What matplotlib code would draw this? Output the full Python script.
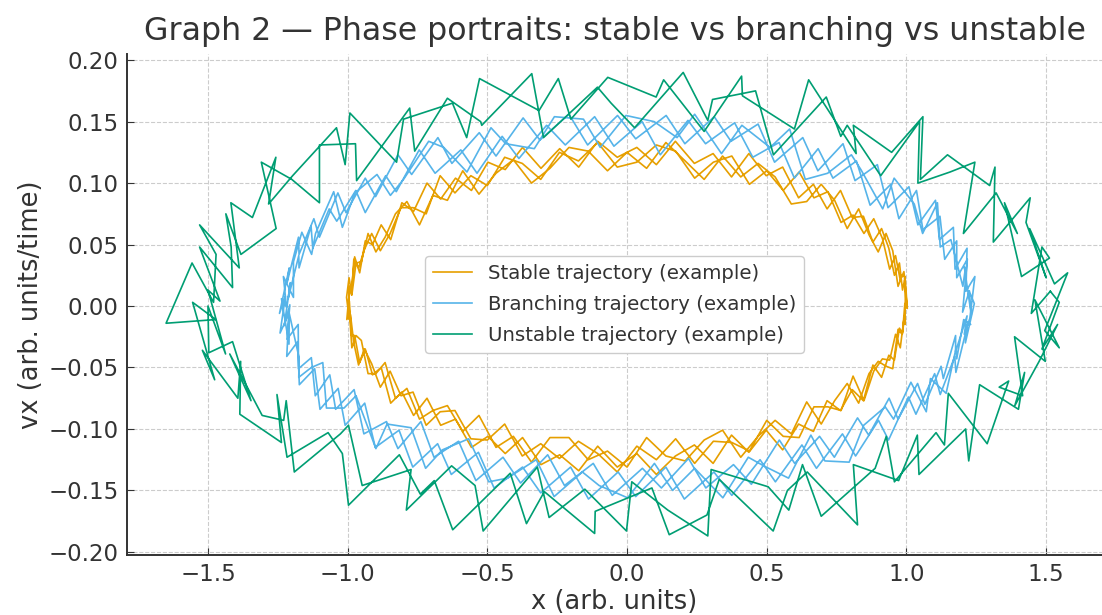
#!/usr/bin/env python
'''
phase portraits: stable vs branching vs unstable
points read off the reference picture (several laps per trajectory)
'''
import matplotlib
matplotlib.use('Agg')
import matplotlib.pyplot as plt

### stable trajectory, three laps
stable_x = [1.000, 1.002, .991, .978, .961, .940, .914, .883, .848, .809, .766, .719, .669, .616, .559, .500, .438, .375, .309, .242, .174, .105, .035,
            -.035, -.105, -.174, -.242, -.309, -.375, -.438, -.500, -.559, -.616, -.669, -.719, -.766, -.809, -.848, -.883, -.914, -.940, -.961, -.978, -.986, -.993,
            -1.003,
            -.995, -.990, -.978, -.961, -.940, -.914, -.883, -.848, -.809, -.766, -.719, -.669, -.616, -.559, -.500, -.438, -.375, -.309, -.242, -.174, -.105, -.035,
            .035, .105, .174, .242, .309, .375, .438, .500, .559, .616, .669, .719, .766, .809, .848, .883, .914, .940, .961, .978, .990, .995,
            .996, .993, .986, .975, .957, .937, .911, .880, .846, .806, .764, .716, .667, .614, .557, .498, .436, .374, .308, .241, .173, .105, .035,
            -.035, -.105, -.173, -.241, -.308, -.374, -.436, -.498, -.557, -.614, -.667, -.716, -.764, -.806, -.846, -.880, -.911, -.937, -.957, -.975, -.986, -.994,
            -.997,
            -.994, -.986, -.975, -.957, -.937, -.911, -.880, -.846, -.806, -.764, -.716, -.667, -.614, -.557, -.498, -.436, -.374, -.308, -.241, -.173, -.105, -.035,
            .035, .105, .173, .241, .308, .374, .436, .498, .557, .614, .667, .716, .764, .806, .846, .880, .911, .937, .957, .975, .986, .994,
            1.000,
            1.003, .995, .985, .970, .951, .927, .899, .866, .829, .788, .743, .695, .643, .588, .530, .469, .407, .342, .276, .208, .139, .070, 0.0,
            -.070, -.139, -.208, -.276, -.342, -.407, -.469, -.530, -.588, -.643, -.695, -.743, -.788, -.829, -.866, -.899, -.927, -.951, -.970, -.985, -.995, -1.004,
            -.994, -.995, -.985, -.970, -.951, -.927, -.899, -.866, -.829, -.788, -.743, -.695, -.643, -.588, -.530, -.469, -.407, -.342, -.276, -.208, -.139, -.070, 0.0,
            .070, .139, .208, .276, .342, .407, .469, .530, .588, .643, .695, .743, .788, .829, .866, .899, .927, .951, .970, .985, .995, .996]
stable_v = [.003, .000, .028, .021, .041, .030, .055, .071, .059, .074, .068, .093, .088, .109, .094, .110, .099, .122, .117, .104, .126, .131, .117,
            .113, .133, .118, .125, .103, .116, .121, .098, .106, .092, .106, .075, .080, .080, .059, .045, .059, .046, .031, .038, .009, .015,
            -.011,
            -.007, -.007, -.030, -.048, -.035, -.047, -.066, -.053, -.073, -.070, -.097, -.086, -.085, -.108, -.109, -.096, -.122, -.112, -.124, -.110, -.120, -.135,
            -.114, -.125, -.108, -.128, -.110, -.111, -.118, -.093, -.106, -.107, -.082, -.082, -.085, -.057, -.077, -.053, -.043, -.044, -.023, -.034, -.012, -.015,
            .006, .021, .013, .035, .025, .047, .063, .052, .073, .072, .094, .079, .099, .088, .113, .106, .124, .105, .124, .116, .134, .115, .129,
            .121, .134, .113, .128, .112, .129, .111, .117, .094, .104, .087, .100, .077, .084, .054, .066, .050, .053, .027, .040, .014, .016,
            -.009,
            .004, -.024, -.024, -.046, -.035, -.056, -.050, -.079, -.070, -.089, -.075, -.097, -.092, -.115, -.106, -.120, -.107, -.129, -.121, -.134, -.114, -.131,
            -.120, -.137, -.122, -.113, -.128, -.105, -.119, -.101, -.117, -.096, -.102, -.077, -.085, -.068, -.077, -.048, -.058, -.040, -.044, -.018, -.022, .001,
            .004,
            -.002, .024, .025, .016, .045, .059, .044, .058, .079, .063, .086, .099, .085, .083, .105, .116, .105, .122, .103, .118, .133, .112, .125,
            .110, .126, .129, .112, .100, .119, .108, .091, .110, .086, .090, .066, .085, .075, .056, .044, .059, .036, .035, .009, .023, .007,
            -.011, -.001, -.034, -.024, -.028, -.055, -.055, -.046, -.075, -.067, -.092, -.085, -.081, -.102, -.089, -.115, -.106, -.127, -.107, -.107, -.125, -.118, -.131,
            -.107, -.122, -.126, -.109, -.101, -.123, -.106, -.093, -.104, -.078, -.096, -.077, -.063, -.079, -.055, -.045, -.049, -.051, -.019, -.023, -.006, -.012]

### branching trajectory, three laps
branch_x = [1.225, 1.201, 1.218, 1.180, 1.180, 1.137, 1.120, 1.059, 1.036, .973, .944, .870, .821, .737, .684, .599, .544, .450, .385, .281, .218, .119, .054,
            -.047, -.116, -.221, -.288, -.387, -.447, -.537, -.595, -.687, -.744, -.826, -.864, -.937, -.971, -1.039, -1.066, -1.125, -1.131, -1.174, -1.175, -1.213, -1.205,
            -1.227,
            -1.207, -1.217, -1.177, -1.176, -1.130, -1.116, -1.064, -1.043, -.977, -.942, -.861, -.820, -.738, -.691, -.603, -.541, -.444, -.381, -.284, -.224, -.121, -.053,
            .055, .123, .220, .282, .381, .445, .545, .600, .689, .742, .825, .865, .938, .970, 1.040, 1.066, 1.124, 1.132, 1.176, 1.176, 1.217, 1.207,
            1.227, 1.245, 1.213, 1.217, 1.174, 1.168, 1.118, 1.104, 1.041, 1.009, .934, .896, .816, .773, .683, .629, .528, .469, .372, .312, .207, .140, .031,
            -.034, -.141, -.208, -.312, -.372, -.469, -.529, -.627, -.677, -.771, -.820, -.900, -.937, -1.006, -1.035, -1.101, -1.121, -1.174, -1.176, -1.217, -1.209, -1.244,
            -1.223,
            -1.242, -1.210, -1.218, -1.179, -1.173, -1.118, -1.099, -1.034, -1.009, -.939, -.901, -.816, -.767, -.678, -.629, -.532, -.476, -.374, -.309, -.202, -.138, -.032,
            .031, .139, .205, .311, .375, .476, .531, .626, .678, .771, .818, .900, .936, 1.007, 1.034, 1.101, 1.121, 1.173, 1.177, 1.217, 1.211, 1.243,
            1.225,
            1.232, 1.207, 1.210, 1.202, 1.159, 1.121, 1.111, 1.058, 1.028, .956, .915, .837, .803, .718, .638, .582, .512, .411, .338, .242, .179, .097, -.004,
            -.096, -.156, -.260, -.332, -.434, -.487, -.573, -.656, -.710, -.800, -.847, -.895, -.974, -1.019, -1.050, -1.115, -1.129, -1.164, -1.194, -1.194, -1.230, -1.219,
            -1.237, -1.210, -1.209, -1.174, -1.175, -1.130, -1.089, -1.076, -1.013, -.970, -.899, -.859, -.773, -.721, -.661, -.567, -.495, -.428, -.325, -.261, -.160, -.100, .002,
            .098, .163, .242, .343, .434, .489, .578, .658, .708, .795, .847, .924, .954, 1.016, 1.071, 1.086, 1.142, 1.178, 1.180, 1.205, 1.230, 1.219]
branch_v = [.012, -.005, .038, .023, .053, .038, .073, .062, .094, .071, .099, .082, .118, .104, .128, .104, .133, .121, .149, .132, .151, .123, .150,
            .130, .154, .131, .147, .120, .138, .108, .127, .108, .127, .093, .106, .076, .094, .069, .079, .047, .065, .031, .041, .006, .019,
            -.016,
            .001, -.027, -.015, -.051, -.042, -.073, -.056, -.084, -.068, -.104, -.094, -.116, -.094, -.123, -.110, -.142, -.123, -.144, -.121, -.146, -.128, -.154,
            -.132, -.148, -.124, -.148, -.129, -.145, -.109, -.128, -.106, -.123, -.091, -.105, -.075, -.092, -.063, -.080, -.049, -.059, -.024, -.037, -.008, -.023,
            -.010, .024, .012, .047, .030, .064, .054, .086, .066, .097, .080, .115, .102, .132, .110, .137, .117, .148, .134, .154, .132, .155, .136,
            .155, .131, .156, .135, .153, .122, .141, .116, .137, .107, .123, .089, .104, .076, .092, .056, .071, .042, .056, .019, .031, -.006,
            .008,
            -.022, -.006, -.041, -.029, -.064, -.051, -.084, -.067, -.097, -.079, -.115, -.101, -.131, -.112, -.137, -.119, -.148, -.131, -.152, -.131, -.157, -.135,
            -.155, -.131, -.157, -.135, -.154, -.125, -.143, -.113, -.132, -.104, -.122, -.093, -.109, -.074, -.088, -.055, -.072, -.041, -.054, -.017, -.030, .002,
            .012,
            -.007, .032, .029, .016, .054, .048, .084, .059, .083, .104, .079, .111, .123, .108, .103, .144, .129, .147, .124, .156, .137, .150, .155,
            .129, .152, .154, .128, .132, .145, .109, .129, .134, .103, .090, .107, .092, .064, .093, .059, .042, .060, .036, .007, .024, -.001,
            .006, -.031, -.006, -.042, -.058, -.050, -.046, -.083, -.083, -.073, -.116, -.096, -.099, -.132, -.117, -.108, -.143, -.140, -.125, -.155, -.135, -.146, -.156,
            -.128, -.150, -.132, -.156, -.123, -.130, -.140, -.105, -.126, -.127, -.097, -.082, -.092, -.062, -.086, -.059, -.071, -.034, -.043, -.011, -.015, -.015]

### unstable trajectory, two laps
unstable_x = [1.515, 1.447, 1.485, 1.512, 1.412, 1.351, 1.397, 1.321, 1.204, 1.245, 1.156, 1.041, 1.047, .908, .788, .765, .713, .524, .460, .306, .289, .201, .027,
              -.057, -.106, -.299, -.341, -.520, -.524, -.643, -.760, -.778, -.968, -.972, -1.101, -1.101, -1.200, -1.309, -1.256, -1.382, -1.436, -1.417, -1.412, -1.530, -1.457,
              -1.500,
              -1.437, -1.500, -1.497, -1.412, -1.346, -1.422, -1.306, -1.229, -1.220, -1.191, -1.026, -.997, -.948, -.773, -.790, -.628, -.544, -.515, -.321, -.279, -.151, -.002,
              .017, .146, .289, .301, .505, .579, .628, .695, .888, .928, .957, 1.106, 1.136, 1.150, 1.289, 1.366, 1.332, 1.416, 1.387, 1.497, 1.460, 1.547,
              1.495, 1.577, 1.530, 1.441, 1.500, 1.428, 1.443, 1.311, 1.317, 1.298, 1.147, 1.050, 1.059, .947, .810, .820, .650, .599, .413, .410, .276, .131, .104,
              -.069, -.201, -.246, -.315, -.528, -.574, -.625, -.800, -.825, -.992, -1.009, -1.040, -1.197, -1.283, -1.257, -1.341, -1.418, -1.388, -1.530, -1.471, -1.480, -1.557,
              -1.650,
              -1.472, -1.555, -1.476, -1.520, -1.393, -1.383, -1.386, -1.237, -1.253, -1.217, -1.070, -1.019, -.997, -.815, -.740, -.690, -.624, -.418, -.360, -.296, -.116, -.114,
              .089, .151, .286, .330, .523, .574, .645, .825, .810, .972, 1.039, 1.045, 1.212, 1.223, 1.262, 1.401, 1.423, 1.388, 1.475, 1.541, 1.485, 1.547,
              1.515]
unstable_v = [.012, -.006, .048, .039, .024, .084, .059, .092, .059, .117, .109, .100, .150, .106, .147, .138, .170, .123, .175, .168, .151, .190, .145,
              .165, .178, .137, .189, .147, .150, .169, .126, .161, .102, .132, .131, .084, .103, .117, .063, .042, .075, .048, .015, .048, .004,
              .013,
              -.039, .000, -.038, -.029, -.077, -.039, -.089, -.093, -.077, -.135, -.104, -.097, -.146, -.133, -.166, -.130, -.146, -.183, -.131, -.172, -.149, -.183,
              -.143, -.166, -.187, -.133, -.147, -.166, -.129, -.171, -.132, -.106, -.143, -.103, -.113, -.071, -.112, -.061, -.066, -.073, -.025, -.045, .005, -.034,
              -.020, .027, .018, .063, .023, .068, .088, .052, .113, .098, .123, .103, .154, .125, .147, .124, .184, .144, .171, .187, .142, .184, .170,
              .186, .152, .185, .159, .185, .137, .165, .152, .117, .157, .115, .145, .106, .083, .121, .072, .084, .031, .066, .042, .003, .035,
              -.014,
              -.011, .003, -.060, -.036, -.075, -.045, -.088, -.111, -.072, -.123, -.103, -.120, -.162, -.121, -.153, -.142, -.182, -.136, -.177, -.151, -.185, -.167,
              -.148, -.186, -.170, -.141, -.183, -.150, -.135, -.178, -.129, -.142, -.105, -.137, -.100, -.126, -.064, -.084, -.054, -.081, -.045, -.015, -.035, .003,
              .012]

labels = ['Stable trajectory (example)', 'Branching trajectory (example)', 'Unstable trajectory (example)']
colors = ['#E69F00', '#56B4E9', '#009E73']

xticks = [-1.5, -1.0, -0.5, 0.0, 0.5, 1.0, 1.5]
yticks = [-0.20, -0.15, -0.10, -0.05, 0.00, 0.05, 0.10, 0.15, 0.20]

textc = '#333333'
plt.rcParams['font.family'] = 'DejaVu Sans'

fig = plt.figure(figsize=(11.02, 6.15), dpi=100)
ax = fig.add_axes([0.1152, 0.0976, 0.8848, 0.8146])

for X, Y, lab, col in zip([stable_x, branch_x, unstable_x], [stable_v, branch_v, unstable_v], labels, colors):
    ax.plot(X, Y, color=col, lw=1.2, label=lab)

ax.set_xlim(-1.79, 1.70)
ax.set_ylim(-0.2025, 0.205)
ax.set_xticks(xticks)
ax.set_yticks(yticks)
ax.set_xticklabels(['{:.1f}'.format(t).replace('-', '\u2212') for t in xticks])
ax.set_yticklabels(['{:.2f}'.format(t).replace('-', '\u2212') for t in yticks])

ax.grid(True, linestyle='--', color='#cccccc', lw=0.8)
ax.set_axisbelow(True)
for s in ['top', 'right']:
    ax.spines[s].set_visible(False)
for s in ['left', 'bottom']:
    ax.spines[s].set_color(textc)
    ax.spines[s].set_linewidth(1.4)
ax.tick_params(direction='in', length=5, labelsize=16.5, colors=textc, pad=6)

ax.set_title('Graph 2 \u2014 Phase portraits: stable vs branching vs unstable', fontsize=22.8, color=textc, pad=10)
ax.set_xlabel('x (arb. units)', fontsize=18.5, color=textc, labelpad=2)
ax.set_ylabel('vx (arb. units/time)', fontsize=18.5, color=textc, labelpad=3)

leg = ax.legend(loc='center', fontsize=14.2, framealpha=1.0, edgecolor='#cccccc', labelspacing=0.6)
for t in leg.get_texts():
    t.set_color(textc)

fig.savefig('out.png', dpi=100)
